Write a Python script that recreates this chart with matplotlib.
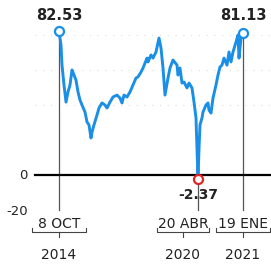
import matplotlib
matplotlib.use("Agg")
import matplotlib.pyplot as plt

# precio (dólares por barril), posición en el eje horizontal
t = [0, 2, 3, 5, 7, 9, 11, 13, 15, 17, 19, 21, 23, 26, 28, 30, 32, 33, 35, 38,
     40, 43, 46, 48, 51, 54, 58, 61, 63, 65, 68, 71, 74, 77, 79, 82, 84, 88, 89,
     92, 94, 97, 100, 102, 104, 106, 109, 111, 114, 118, 119, 121, 123, 125, 128,
     130, 133, 135, 137, 138, 139, 140, 141, 143, 144, 147, 149, 150, 152, 154,
     157, 159, 161, 163, 165, 168, 170, 172, 174, 177, 179, 180, 182, 184]
precio = [82.53, 74.5, 63.0, 51.6, 41.8, 47.6, 51.6, 60.2, 57.3, 54.4, 47.6, 43.0,
          40.1, 36.1, 30.4, 28.7, 21.2, 24.6, 28.7, 34.4, 38.4, 41.3, 40.1, 38.4,
          41.8, 44.7, 45.8, 44.1, 41.3, 45.8, 44.7, 47.6, 51.6, 55.6, 56.2, 59.0,
          61.3, 67.0, 64.8, 68.8, 67.0, 70.5, 78.5, 72.8, 61.3, 45.8, 55.6, 61.3,
          65.9, 63.0, 57.3, 61.3, 52.7, 53.3, 49.9, 52.7, 49.9, 41.8, 32.7, 15.0,
          -2.37, 15.0, 28.7, 32.7, 36.1, 40.1, 41.3, 37.2, 35.5, 44.1, 51.6, 57.3,
          61.9, 63.0, 67.0, 63.0, 70.5, 64.8, 70.5, 76.2, 80.2, 67.0, 78.5, 81.13]

marcas_t = [0, 139, 184]
marcas_v = [82.53, -2.37, 81.13]
fechas = ["8 OCT", "20 ABR", "19 ENE"]
anios = ["2014", "2020", "2021"]
yticks = [0, -20]

azul = "#1b8fe6"
rojo = "#e02424"
texto = "#222222"

fig = plt.figure(figsize=(2.71, 2.64), dpi=100)
ax = fig.add_axes([0, 0, 1, 1])
ax.set_xlim(-59, 212)
ax.set_ylim(-51.0, 100.3)
ax.axis("off")

# lineas guia tenues
for g in [40, 60, 80]:
    ax.plot([-24, 212], [g, g], color="#e0e0e0", lw=0.8, ls=(0, (1, 6)), zorder=0)

# lineas verticales de las fechas
for xm, vm in zip(marcas_t, marcas_v):
    ax.plot([xm, xm], [max(vm, 0), -20], color="#555555", lw=0.9, zorder=1)

ax.plot([-24, 212], [0, 0], color="black", lw=1.6, zorder=2)

ax.plot(t, precio, color=azul, lw=2.1, solid_joinstyle="round", zorder=3)

colores = [azul, rojo, azul]
for xm, vm, c in zip(marcas_t, marcas_v, colores):
    ax.plot(xm, vm, "o", ms=6.5, mfc="white", mec=c, mew=1.6, zorder=4)

ax.text(marcas_t[0], 91.5, f"{marcas_v[0]:.2f}", ha="center", va="center",
        fontsize=10.5, fontweight="bold", color=texto)
ax.text(marcas_t[2], 91.5, f"{marcas_v[2]:.2f}", ha="center", va="center",
        fontsize=10.5, fontweight="bold", color=texto)
ax.text(marcas_t[1], -11.5, f"{marcas_v[1]:.2f}", ha="center", va="center",
        fontsize=10, fontweight="bold", color=texto)

for yv in yticks:
    ax.text(-31, yv - 0.8 * (yv != 0), str(yv), ha="right", va="center",
            fontsize=9.5, color=texto)

# etiquetas de fecha con llave (la de abril va corrida a la izquierda)
centros = [0, 124, 184]
anchos = [27, 26, 27]
for xm, f, a, w in zip(centros, fechas, anios, anchos):
    ax.text(xm, -28.3, f, ha="center", va="center", fontsize=10, color=texto)
    ax.plot([xm - w, xm - w, xm + w, xm + w], [-30.4, -32.7, -32.7, -30.4],
            color="#444444", lw=0.8)
    ax.plot([xm, xm], [-32.7, -35.6], color="#444444", lw=0.8)
    ax.text(xm, -45.8, a, ha="center", va="center", fontsize=10, color=texto)

fig.savefig("out.png", dpi=100)
